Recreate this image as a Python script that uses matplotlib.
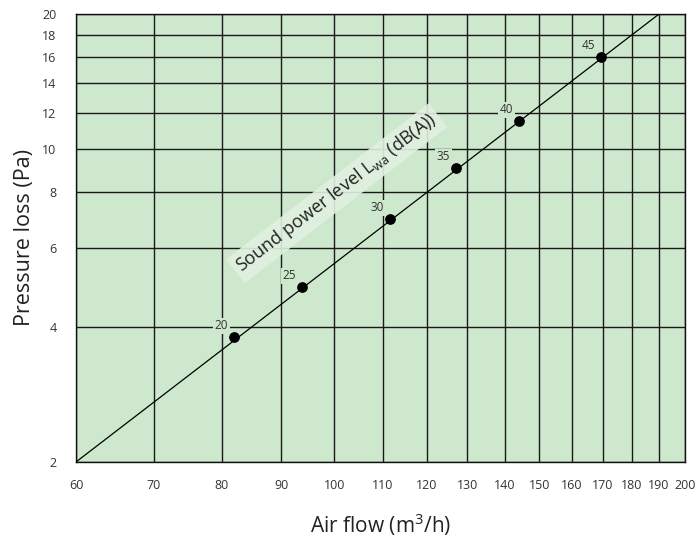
import matplotlib
matplotlib.use("Agg")
import matplotlib.pyplot as plt

plt.rcParams['font.family'] = ['Open Sans', 'DejaVu Sans']

# Sound power level points (dB(A)).
levels = [20, 25, 30, 35, 40, 45]
air_flow = [82.0, 93.8, 111.6, 127.2, 144.0, 169.4]
pressure = [3.80, 4.92, 6.97, 9.06, 11.54, 16.03]

# Straight characteristic line (log-log).
line_flow = [60, 190]
line_pressure = [2, 20]

x_ticks = [60, 70, 80, 90, 100, 110, 120, 130, 140, 150, 160, 170, 180, 190, 200]
y_ticks = [2, 4, 6, 8, 10, 12, 14, 16, 18, 20]

bg = '#cde8cc'
text_col = '#333333'

figure = plt.figure(figsize=(6.96, 5.37), dpi=100)
axes = figure.add_axes([0.1092, 0.1397, 0.875, 0.8342])
axes.set_facecolor(bg)
axes.set_xscale('log')
axes.set_yscale('log')
axes.set_xlim(60, 200)
axes.set_ylim(2, 20)

axes.set_xticks(x_ticks, [str(v) for v in x_ticks])
axes.set_yticks(y_ticks, [str(v) for v in y_ticks])
axes.minorticks_off()
axes.tick_params(length=0, labelsize=9, colors=text_col, pad=12)
axes.tick_params(axis='y', pad=14)
axes.grid(True, color='#1a1a1a', linewidth=1.0)
axes.set_axisbelow(True)
for spine in axes.spines.values():
    spine.set_color('#111111')
    spine.set_linewidth(1.0)

axes.plot(line_flow, line_pressure, color='black', linewidth=0.9, zorder=3)
axes.scatter(air_flow, pressure, s=45, color='black', zorder=4)

for lvl, xv, yv in zip(levels, air_flow, pressure):
    axes.annotate(str(lvl), (xv, yv), xytext=(-9, 8), textcoords='offset points',
                  ha='center', va='center', fontsize=8.5, color=text_col,
                  bbox=dict(facecolor=bg, edgecolor='none', pad=1.0), zorder=5)

axes.text(0.428, 0.6, "Sound power level L$_{\\mathregular{wa}}$ (dB(A))",
          transform=axes.transAxes, rotation=37.6, rotation_mode='anchor',
          ha='center', va='center', fontsize=13, color='#222222',
          bbox=dict(facecolor='#e0f0df', edgecolor='none', alpha=0.9, pad=3),
          zorder=5)

axes.set_xlabel("Air flow (m$^{\\mathregular{3}}$/h)", fontsize=15, color='#222222', labelpad=14)
axes.set_ylabel("Pressure loss (Pa)", fontsize=15.5, color='#222222', labelpad=5)

figure.savefig("out.png", dpi=100)
